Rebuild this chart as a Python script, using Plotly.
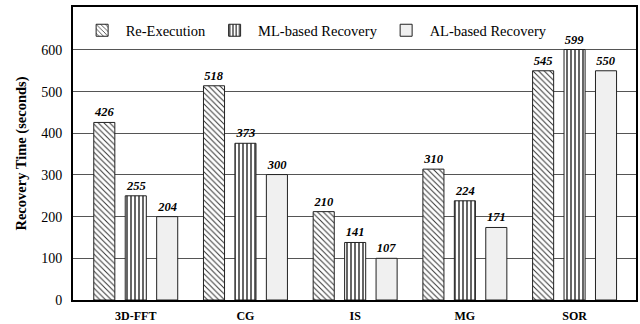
import plotly.graph_objects as go

categories = ["3D-FFT", "CG", "IS", "MG", "SOR"]
series_names = ["Re-Execution", "ML-based Recovery", "AL-based Recovery"]

# bar heights as drawn in the picture
re_heights = [426, 514, 212, 314, 550]
ml_heights = [250, 376, 138, 238, 601]
al_heights = [200, 301, 100, 174, 550]

# value labels printed above the bars
re_labels = [426, 518, 210, 310, 545]
ml_labels = [255, 373, 141, 224, 599]
al_labels = [204, 300, 107, 171, 550]

y_ticks = [0, 100, 200, 300, 400, 500, 600]

SERIF = "Liberation Serif"

styles = [
    dict(color="white", pattern=dict(shape="\\", size=4, solidity=0.25, fgcolor="#333", bgcolor="white")),
    dict(color="white", pattern=dict(shape="|", size=4, solidity=0.3, fgcolor="black", bgcolor="white")),
    dict(color="#f0f0f0"),
]

fig = go.Figure()
for name, h, lab, st in zip(series_names, [re_heights, ml_heights, al_heights],
                            [re_labels, ml_labels, al_labels], styles):
    fig.add_trace(go.Bar(
        x=categories, y=h, name=name,
        text=[str(v) for v in lab], textposition="outside",
        textfont=dict(family=SERIF, size=12.5, color="black", weight="bold", style="italic"),
        marker=dict(line=dict(color="#222", width=1), **st),
        cliponaxis=False,
    ))

fig.update_layout(
    template="none",
    width=640, height=324,
    margin=dict(l=73, r=4, t=7, b=24),
    paper_bgcolor="white", plot_bgcolor="white",
    barmode="group", bargap=0.14, bargroupgap=0.33,
    font=dict(family=SERIF, color="black"),
    showlegend=True,
    legend=dict(orientation="h", x=0.01, y=0.975, xanchor="left", yanchor="top",
                font=dict(family=SERIF, size=14.5, color="black"),
                bgcolor="rgba(0,0,0,0)", itemwidth=37, tracegroupgap=0),
)
fig.update_xaxes(
    automargin=False,
    range=[-0.572, 4.56], showline=True, linecolor="black", linewidth=2, mirror=True,
    ticks="", tickfont=dict(family=SERIF, size=12, color="black", weight="bold"),
    ticklabelstandoff=4, showgrid=False, zeroline=False,
)
fig.update_yaxes(
    automargin=False,
    range=[0, 703], tickvals=y_ticks, showline=True, linecolor="black", linewidth=2, mirror=True,
    ticks="", tickfont=dict(family=SERIF, size=14, color="black"), ticklabelstandoff=6,
    showgrid=True, gridcolor="#555", gridwidth=1.3, zeroline=False,
    title=dict(text="Recovery Time (seconds)", font=dict(family=SERIF, size=14.5, color="black", weight="bold"), standoff=11),
)

fig.write_html(
    "out.html",
    config={"displayModeBar": False},
    post_script="document.body.style.margin='0';document.body.style.overflow='hidden';",
)
